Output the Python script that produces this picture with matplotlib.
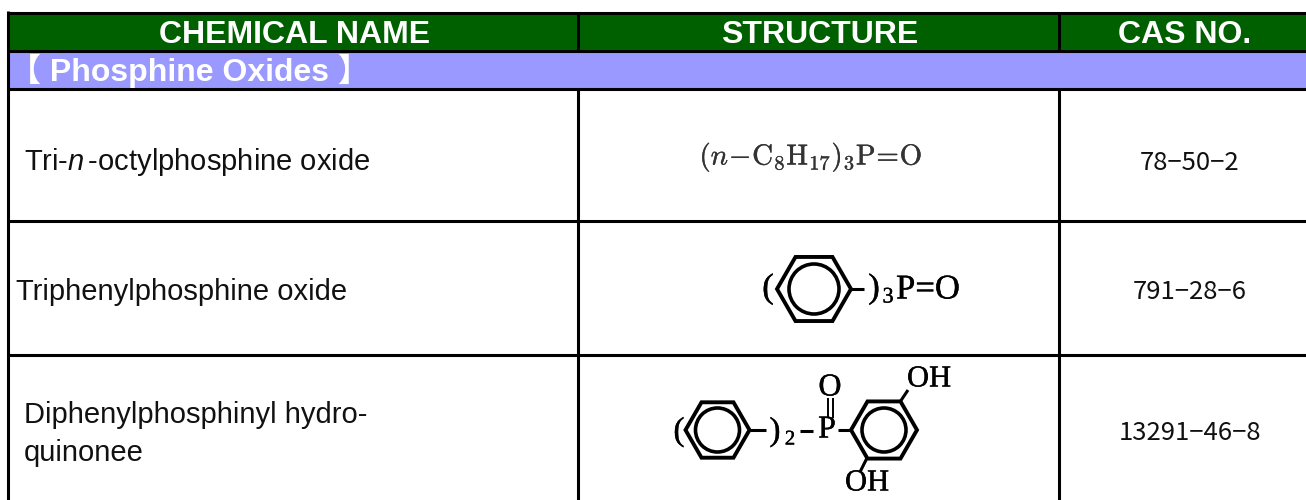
import numpy as np
import matplotlib
matplotlib.use("Agg")
import matplotlib.pyplot as plt
import matplotlib.patheffects as pe
from matplotlib.patches import Rectangle, RegularPolygon, Circle

plt.rcParams['mathtext.fontset'] = 'custom'
plt.rcParams['mathtext.rm'] = 'Liberation Sans'
plt.rcParams['mathtext.it'] = 'Liberation Sans:italic'

headers = ["CHEMICAL NAME", "STRUCTURE", "CAS NO."]
section = "\u3010 Phosphine Oxides \u3011"
names = ["Tri-$\\it{n}\\,$-octylphosphine oxide", "Triphenylphosphine oxide", "Diphenylphosphinyl hydro-\nquinonee"]
cas_numbers = ["78\u221250\u22122", "791\u221228\u22126", "13291\u221246\u22128"]

GREEN = "#006000"
PURPLE = "#9999ff"

fig = plt.figure(figsize=(13.06, 5.0), dpi=100)
ax = fig.add_axes([0, 0, 1, 1])
ax.set_xlim(0, 1306)
ax.set_ylim(500, 0)
ax.axis("off")

L = 2.2
ax.add_patch(Rectangle((8, 13), 1298, 37, fc=GREEN, ec="none"))
ax.add_patch(Rectangle((8, 51), 1298, 37, fc=PURPLE, ec="none"))
for y in (12.5, 50.5, 88.5, 221, 355):
    ax.plot([7, 1306], [y, y], color="black", lw=L, solid_capstyle="butt")
ax.plot([8, 8], [11, 500], color="black", lw=L, solid_capstyle="butt")
for x in (578, 1058.5):
    ax.plot([x, x], [12, 52], color="black", lw=L, solid_capstyle="butt")
    ax.plot([x, x], [88, 500], color="black", lw=L, solid_capstyle="butt")

sans = "Liberation Sans"
for label, x in zip(headers, (295, 820, 1185)):
    ax.text(x, 35, label, color="white", fontsize=23, fontweight="bold",
            family=sans, ha="center", va="center")
ax.text(9, 71, section, color="white", fontsize=23, fontweight="bold",
        family=[sans, "Noto Sans CJK JP"], ha="left", va="center")

ax.text(24, 162, names[0], fontsize=21, family=sans, ha="left", va="center", color="#111111")
ax.text(16, 292, names[1], fontsize=21, family=sans, ha="left", va="center", color="#111111")
ax.text(24, 434, names[2], fontsize=21, family=sans, ha="left", va="center", color="#111111", linespacing=1.45)

for c, y in zip(cas_numbers, (163, 292, 433)):
    ax.text(1190, y, c, fontsize=18.5, family="Noto Sans CJK JP", ha="center", va="center", color="#111111")

# Structure 1
t = ax.text(811, 157, r"$(n\!-\!\mathrm{C_8H_{17}})_3\mathrm{P\!=\!O}$", fontsize=20.8,
            math_fontfamily="cm", ha="center", va="center", color="#333333")
t.set_path_effects([pe.withStroke(linewidth=0.25, foreground="#333333")])


def ring(cx, cy, R, r):
    ax.add_patch(RegularPolygon((cx, cy), 6, radius=R, orientation=np.pi / 6,
                                fill=False, ec="black", lw=2.8))
    ax.add_patch(Circle((cx, cy), r, fill=False, ec="black", lw=2.6))


def bond(x0, y0, x1, y1, lw=2.2):
    ax.plot([x0, x1], [y0, y1], color="black", lw=lw, solid_capstyle="butt")


serif = "Liberation Serif"


def chem(x, y, s, size=22):
    t = ax.text(x, y, s, fontsize=size, family=serif, ha="center", va="center", color="black")
    t.set_path_effects([pe.withStroke(linewidth=0.25, foreground="black")])


# Structure 2
ring(814, 289, 37, 25)
bond(851, 289, 864, 289)
chem(768, 289, "(", 25)
chem(874, 289, ")", 25)
chem(888, 298, "3", 16)
chem(928, 290, "P=O", 25)

# Structure 3
ring(717.5, 430, 32, 22)
ring(884, 430, 33, 22)
bond(750, 430, 766, 430)
chem(679, 432, "(", 24)
chem(775, 432, ")", 24)
chem(790, 440, "2", 15)
bond(800, 431, 813, 431)
chem(827, 430, "P", 23)
bond(838, 430, 851, 430)
chem(830, 388, "O", 23)
bond(827.5, 398, 827.5, 418, 1.4)
bond(833, 398, 833, 418, 1.4)
bond(900, 402, 908, 390)
chem(929, 379, "OH", 22)
bond(867, 458, 860, 472)
chem(867, 483, "OH", 22)

fig.savefig("out.png", dpi=100, facecolor="white")
